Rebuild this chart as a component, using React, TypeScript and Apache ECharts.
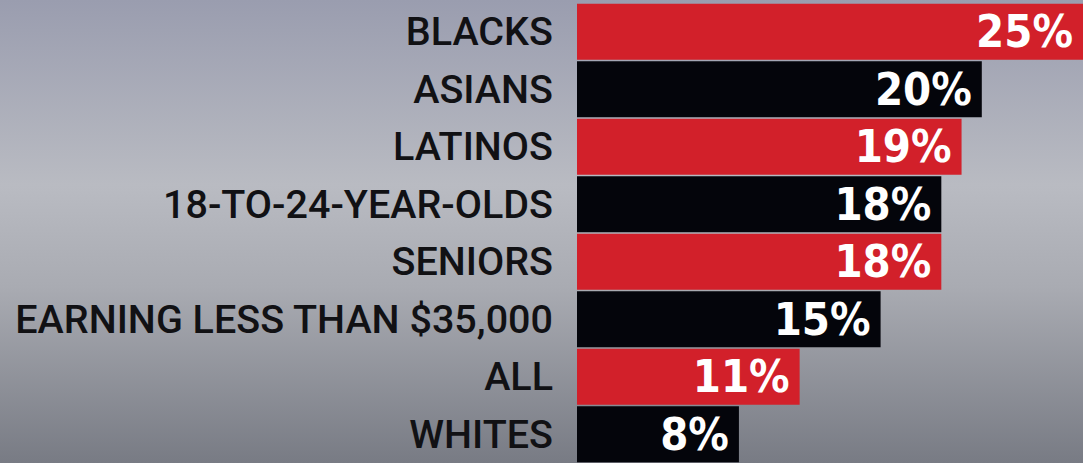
import React, { useEffect, useRef } from "react";
import * as echarts from "echarts";

const categories = [
  "BLACKS",
  "ASIANS",
  "LATINOS",
  "18-TO-24-YEAR-OLDS",
  "SENIORS",
  "EARNING LESS THAN $35,000",
  "ALL",
  "WHITES",
];
const values = [25, 20, 19, 18, 18, 15, 11, 8];
const barColors = ["#d2202a", "#04050b"];

export default function App() {
  const ref = useRef<HTMLDivElement>(null);
  useEffect(() => {
    document.body.style.margin = "0";
    if (!ref.current) return;
    const chart = echarts.init(ref.current, null, { renderer: "svg" });
    chart.setOption({
      animation: false,
      backgroundColor: {
        type: "linear",
        x: 0,
        y: 0,
        x2: 0,
        y2: 1,
        colorStops: [
          { offset: 0, color: "#9a9daf" },
          { offset: 0.4, color: "#b9bbc2" },
          { offset: 0.62, color: "#a9abb2" },
          { offset: 1, color: "#787b84" },
        ],
      },
      grid: { left: 577, top: 3, width: 520, height: 467, containLabel: false },
      xAxis: { type: "value", min: 0, max: 25, show: false },
      yAxis: {
        type: "category",
        inverse: true,
        data: categories,
        axisLine: { show: false },
        axisTick: { show: false },
        splitLine: { show: false },
        axisLabel: {
          margin: 24,
          color: "#111114",
          fontFamily: "Roboto, 'DejaVu Sans', sans-serif",
          fontWeight: 500,
          fontSize: 39.5,
        },
      },
      series: [
        {
          type: "bar",
          barWidth: 56,
          clip: false,
          data: values.map((v, i) => ({
            value: v,
            itemStyle: { color: barColors[i % 2] },
          })),
          label: {
            show: true,
            position: "insideRight",
            distance: 10,
            formatter: "{c}%",
            color: "#ffffff",
            fontFamily: "'DejaVu Sans Condensed', sans-serif",
            fontWeight: "bold",
            fontSize: 45,
          },
        },
      ],
    });
    return () => chart.dispose();
  }, []);
  return <div ref={ref} style={{ width: 1083, height: 463 }} />;
}
